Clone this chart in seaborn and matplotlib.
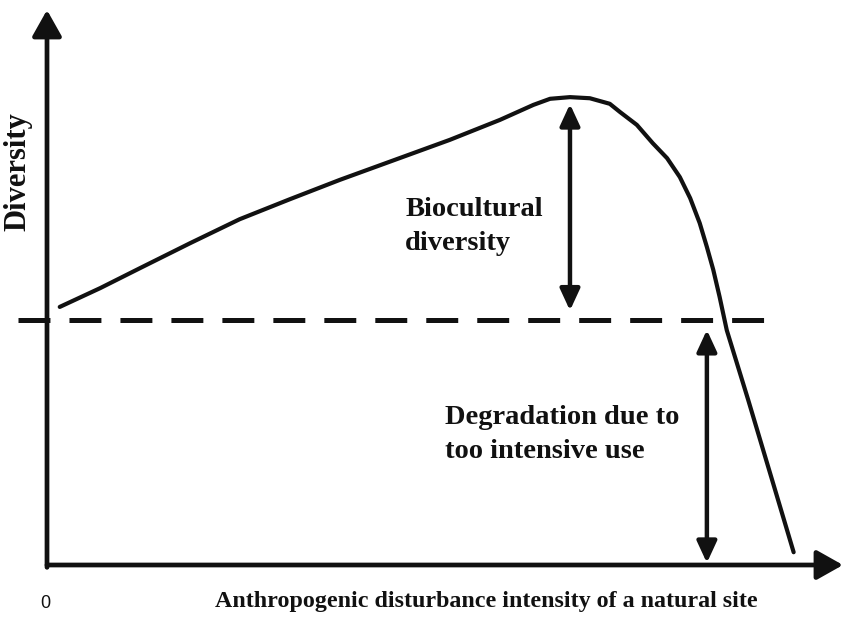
import matplotlib
matplotlib.use("Agg")
import matplotlib.pyplot as plt
import seaborn as sns
import pandas as pd

# curve (disturbance intensity vs diversity, arbitrary units 0-100)
intensity = [1.6, 6.7, 11.7, 18.0, 24.2, 30.5, 36.8, 43.7, 50.6, 56.9, 61.1, 63.2, 65.7,
             68.2, 70.7, 72.0, 74.1, 76.1, 77.9, 79.5, 80.8, 82.0, 82.9, 83.7, 84.5,
             85.4, 88.1, 91.1, 93.8]
diversity = [46.5, 49.9, 53.5, 58.0, 62.3, 65.9, 69.4, 73.0, 76.6, 80.2, 82.9, 84.0, 84.3,
             84.1, 83.1, 81.6, 79.3, 76.0, 73.3, 69.9, 66.1, 61.6, 57.3, 53.2, 48.3,
             42.3, 29.7, 15.3, 2.3]

baseline = 44.1                 # natural-site diversity (dashed line)
baseline_span = [-3.6, 90.8]
degradation_x = 82.9

label_bio = "Biocultural\ndiversity"
label_deg = "Degradation due to\ntoo intensive use"
xlabel = "Anthropogenic disturbance intensity of a natural site"
ylabel = "Diversity"

sns.set_style("white")
plt.rcParams["font.family"] = ["Liberation Serif", "DejaVu Serif"]
plt.rcParams["lines.scale_dashes"] = False

ink = "#111111"
df = pd.DataFrame({"intensity": intensity, "diversity": diversity})

fig = plt.figure(figsize=(8.51, 6.22), dpi=100)
ax = fig.add_axes([47 / 851, 57 / 622, 796 / 851, 555 / 622])

sns.lineplot(data=df, x="intensity", y="diversity", sort=False, ax=ax,
             color=ink, lw=3.0, solid_joinstyle="round")

ax.plot(baseline_span, [baseline, baseline], color=ink, lw=3.6,
        ls=(0, (23, 13.7)), clip_on=False, solid_capstyle="butt")

ax.set_xlim(0, 100)
ax.set_ylim(0, 100)
ax.set_xticks([])
ax.set_yticks([])
ax.set_xlabel("")
ax.set_ylabel("")
for s in ax.spines.values():
    s.set_visible(False)

# axes drawn as arrows
axis_arrow = dict(arrowstyle="-|>,head_length=0.8,head_width=0.45", mutation_scale=20,
                  lw=3.4, color=ink, shrinkA=0, shrinkB=0)
ax.annotate("", xy=(0, 1), xytext=(0, -0.0042), xycoords="axes fraction",
            arrowprops=axis_arrow, annotation_clip=False)
ax.annotate("", xy=(1, 0), xytext=(0, 0), xycoords="axes fraction",
            arrowprops=axis_arrow, annotation_clip=False)

# double arrows
i_peak = diversity.index(max(diversity))
dbl = "<|-|>,head_length=0.65,head_width=0.3"
ax.annotate("", xy=(intensity[i_peak], diversity[i_peak]), xytext=(intensity[i_peak], baseline),
            arrowprops=dict(arrowstyle=dbl, mutation_scale=20, lw=3.2, color=ink,
                            shrinkA=7, shrinkB=5))
ax.annotate("", xy=(degradation_x, baseline), xytext=(degradation_x, 0),
            arrowprops=dict(arrowstyle=dbl, mutation_scale=20, lw=3.2, color=ink,
                            shrinkA=1.5, shrinkB=7))

txt = dict(fontsize=20.5, fontweight="bold", color=ink, linespacing=1.45)
ax.text(45.0, 66.3, label_bio, ha="left", va="top", **txt)
ax.text(50.0, 28.8, label_deg, ha="left", va="top", **txt)

fig.text(486 / 851, 1 - 601 / 622, xlabel, ha="center", va="center",
         fontsize=17.3, fontweight="bold", color=ink)
fig.text(18 / 851, 1 - 172 / 622, ylabel, ha="center", va="center", rotation=90,
         fontsize=22, fontweight="bold", color=ink)
fig.text(45 / 851, 1 - 603 / 622, "0", ha="center", va="center",
         fontsize=13, color=ink, family="Liberation Sans")

fig.savefig("out.png", dpi=100)
